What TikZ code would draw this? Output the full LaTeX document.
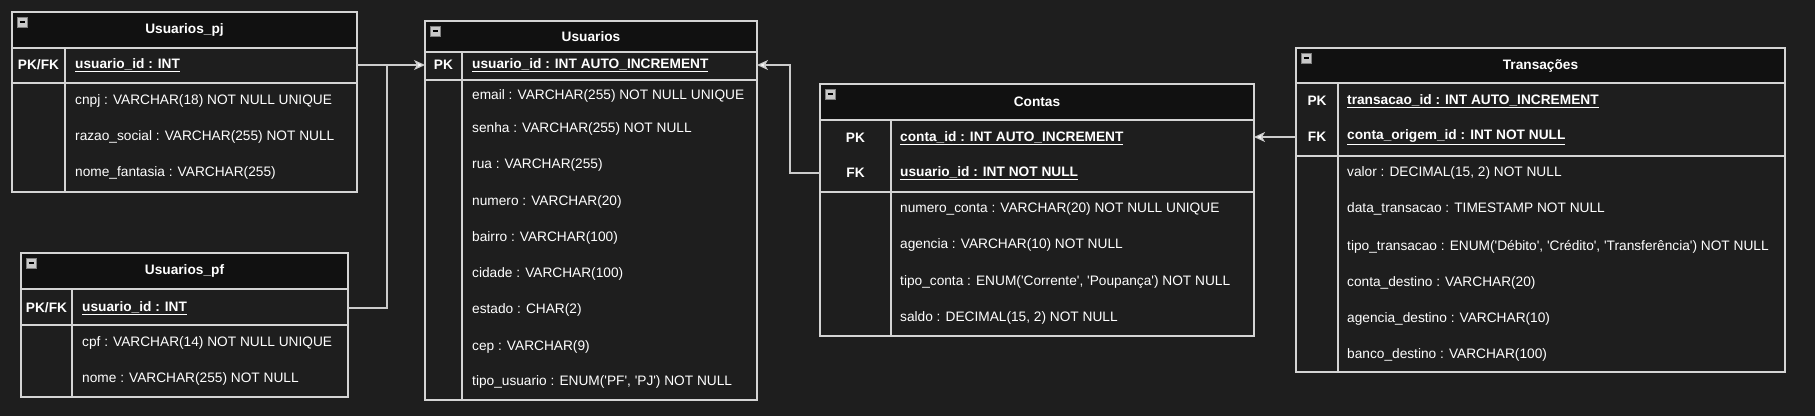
\documentclass[tikz,border=0pt]{standalone}
\usepackage{fontspec}
\setmainfont{Liberation Sans}
\usetikzlibrary{arrows.meta}
\definecolor{bgc}{HTML}{1E1E1E}
\definecolor{hdc}{HTML}{111111}
\definecolor{lnc}{HTML}{D4D4D4}
\definecolor{cnc}{HTML}{CCCCCC}
\definecolor{icf}{HTML}{C8C8C8}
\newcommand\fsz{\fontsize{13.7}{16.5}\selectfont}
\newcommand\sq{\textquotesingle}
\tikzset{
  tbl/.style={draw=lnc, line width=1.3pt, fill=bgc, inner sep=0pt, outer sep=0pt, anchor=north west, rectangle},
  sepl/.style={draw=lnc, line width=1.3pt},
  ttl/.style={text=white, font=\fsz\bfseries, inner sep=0pt},
  keyt/.style={text=white, font=\fsz\bfseries, inner sep=0pt},
  fld/.style={text=white, anchor=west, inner sep=0pt, font=\fsz},
  pkf/.style={fld, font=\fsz\bfseries},
  iconbox/.style={draw=gray, fill=icf, line width=0.6pt, minimum size=10pt, inner sep=0pt, anchor=north west},
  conn/.style={draw=cnc, line width=1.3pt},
  arr/.style={conn, -{Stealth[length=11pt,width=10pt,inset=3pt,fill=white]}}
}
% name, L, T, R, H, K, B, D, title
\newcommand\erTable[9]{%
  \node[tbl, minimum width={(#4-#2)*1pt}, minimum height={(#7-#3)*1pt}] (#1) at (#2,#3) {};
  \fill[hdc] (#2,#3) rectangle (#4,#5);
  \draw[sepl] (#2,#3) rectangle (#4,#7);
  \draw[sepl] (#2,#5) -- (#4,#5);
  \draw[sepl] (#2,#6) -- (#4,#6);
  \draw[sepl] (#8,#5) -- (#8,#7);
  \node[iconbox] (#1-icon) at (#2+5,#3+5) {};
  \draw[black, line width=1.4pt] (#2+7.5,#3+10) -- (#2+12.5,#3+10);
  \node[ttl] (#1-title) at ({(#2+#4)/2},{(#3+#5)/2}) {#9};
}
\begin{document}
\begin{tikzpicture}[x=1pt,y=-1pt]
\fill[bgc] (0,0) rectangle (1815,416);
\useasboundingbox (0,0) rectangle (1815,416);

% Usuarios_pj
\erTable{pj}{12}{12}{357}{48}{83}{192}{65}{Usuarios\_pj}
\node[keyt] (pj-k) at (38.5,65) {PK/FK};
\node[pkf] (pj-pk) at (75,65) {\underline{usuario\_id : INT}};
\node[fld] (pj-f1) at (75,101) {cnpj : VARCHAR(18) NOT NULL UNIQUE};
\node[fld] (pj-f2) at (75,137) {razao\_social : VARCHAR(255) NOT NULL};
\node[fld] (pj-f3) at (75,173) {nome\_fantasia : VARCHAR(255)};
\coordinate (pj-r) at (357,65);

% Usuarios_pf
\erTable{pf}{21}{253}{348}{289}{325}{397}{72}{Usuarios\_pf}
\node[keyt] (pf-k) at (46.5,308) {PK/FK};
\node[pkf] (pf-pk) at (82,308) {\underline{usuario\_id : INT}};
\node[fld] (pf-f1) at (82,343) {cpf : VARCHAR(14) NOT NULL UNIQUE};
\node[fld] (pf-f2) at (82,379) {nome : VARCHAR(255) NOT NULL};
\coordinate (pf-r) at (348,308);

% Usuarios
\erTable{us}{425}{21}{757}{52}{80}{400}{462}{Usuarios}
\node[keyt] (us-k) at (443.5,65) {PK};
\node[pkf] (us-pk) at (472,65) {\underline{usuario\_id : INT AUTO\_INCREMENT}};
\node[fld] (us-f1) at (472,96) {email : VARCHAR(255) NOT NULL UNIQUE};
\node[fld] (us-f2) at (472,129) {senha : VARCHAR(255) NOT NULL};
\node[fld] (us-f3) at (472,165) {rua : VARCHAR(255)};
\node[fld] (us-f4) at (472,202) {numero : VARCHAR(20)};
\node[fld] (us-f5) at (472,238) {bairro : VARCHAR(100)};
\node[fld] (us-f6) at (472,274) {cidade : VARCHAR(100)};
\node[fld] (us-f7) at (472,310) {estado : CHAR(2)};
\node[fld] (us-f8) at (472,347) {cep : VARCHAR(9)};
\node[fld] (us-f9) at (472,382) {tipo\_usuario : ENUM(\sq PF\sq, \sq PJ\sq) NOT NULL};
\coordinate (us-l) at (425,65);
\coordinate (us-r) at (757,65);

% Contas
\erTable{co}{820}{84}{1254}{120}{192}{336}{891}{Contas}
\node[keyt] (co-k1) at (855.5,138) {PK};
\node[keyt] (co-k2) at (855.5,173) {FK};
\node[pkf] (co-pk) at (900,138) {\underline{conta\_id : INT AUTO\_INCREMENT}};
\node[pkf] (co-fk) at (900,173) {\underline{usuario\_id : INT NOT NULL}};
\node[fld] (co-f1) at (900,209) {numero\_conta : VARCHAR(20) NOT NULL UNIQUE};
\node[fld] (co-f2) at (900,245) {agencia : VARCHAR(10) NOT NULL};
\node[fld] (co-f3) at (900,282) {tipo\_conta : ENUM(\sq Corrente\sq, \sq Poupança\sq) NOT NULL};
\node[fld] (co-f4) at (900,318) {saldo : DECIMAL(15, 2) NOT NULL};
\coordinate (co-l) at (820,173);
\coordinate (co-r) at (1254,137);

% Transacoes
\erTable{tr}{1296}{48}{1785}{83}{156}{372}{1338}{Transações}
\node[keyt] (tr-k1) at (1317,101) {PK};
\node[keyt] (tr-k2) at (1317,137) {FK};
\node[pkf] (tr-pk) at (1347,101) {\underline{transacao\_id : INT AUTO\_INCREMENT}};
\node[pkf] (tr-fk) at (1347,137) {\underline{conta\_origem\_id : INT NOT NULL}};
\node[fld] (tr-f1) at (1347,173) {valor : DECIMAL(15, 2) NOT NULL};
\node[fld] (tr-f2) at (1347,209) {data\_transacao : TIMESTAMP NOT NULL};
\node[fld] (tr-f3) at (1347,247) {tipo\_transacao : ENUM(\sq Débito\sq, \sq Crédito\sq, \sq Transferência\sq) NOT NULL};
\node[fld] (tr-f4) at (1347,283) {conta\_destino : VARCHAR(20)};
\node[fld] (tr-f5) at (1347,319) {agencia\_destino : VARCHAR(10)};
\node[fld] (tr-f6) at (1347,355) {banco\_destino : VARCHAR(100)};
\coordinate (tr-l) at (1296,137);

% connectors
\coordinate (j1) at (387,65);
\coordinate (j2) at (790,65);
\draw[arr] (pj-r) -- (us-l);
\draw[conn] (pf-r) -| (j1);
\draw[arr] (co-l) -| (j2) -- (us-r);
\draw[arr] (tr-l) -- (co-r);
\end{tikzpicture}
\end{document}
